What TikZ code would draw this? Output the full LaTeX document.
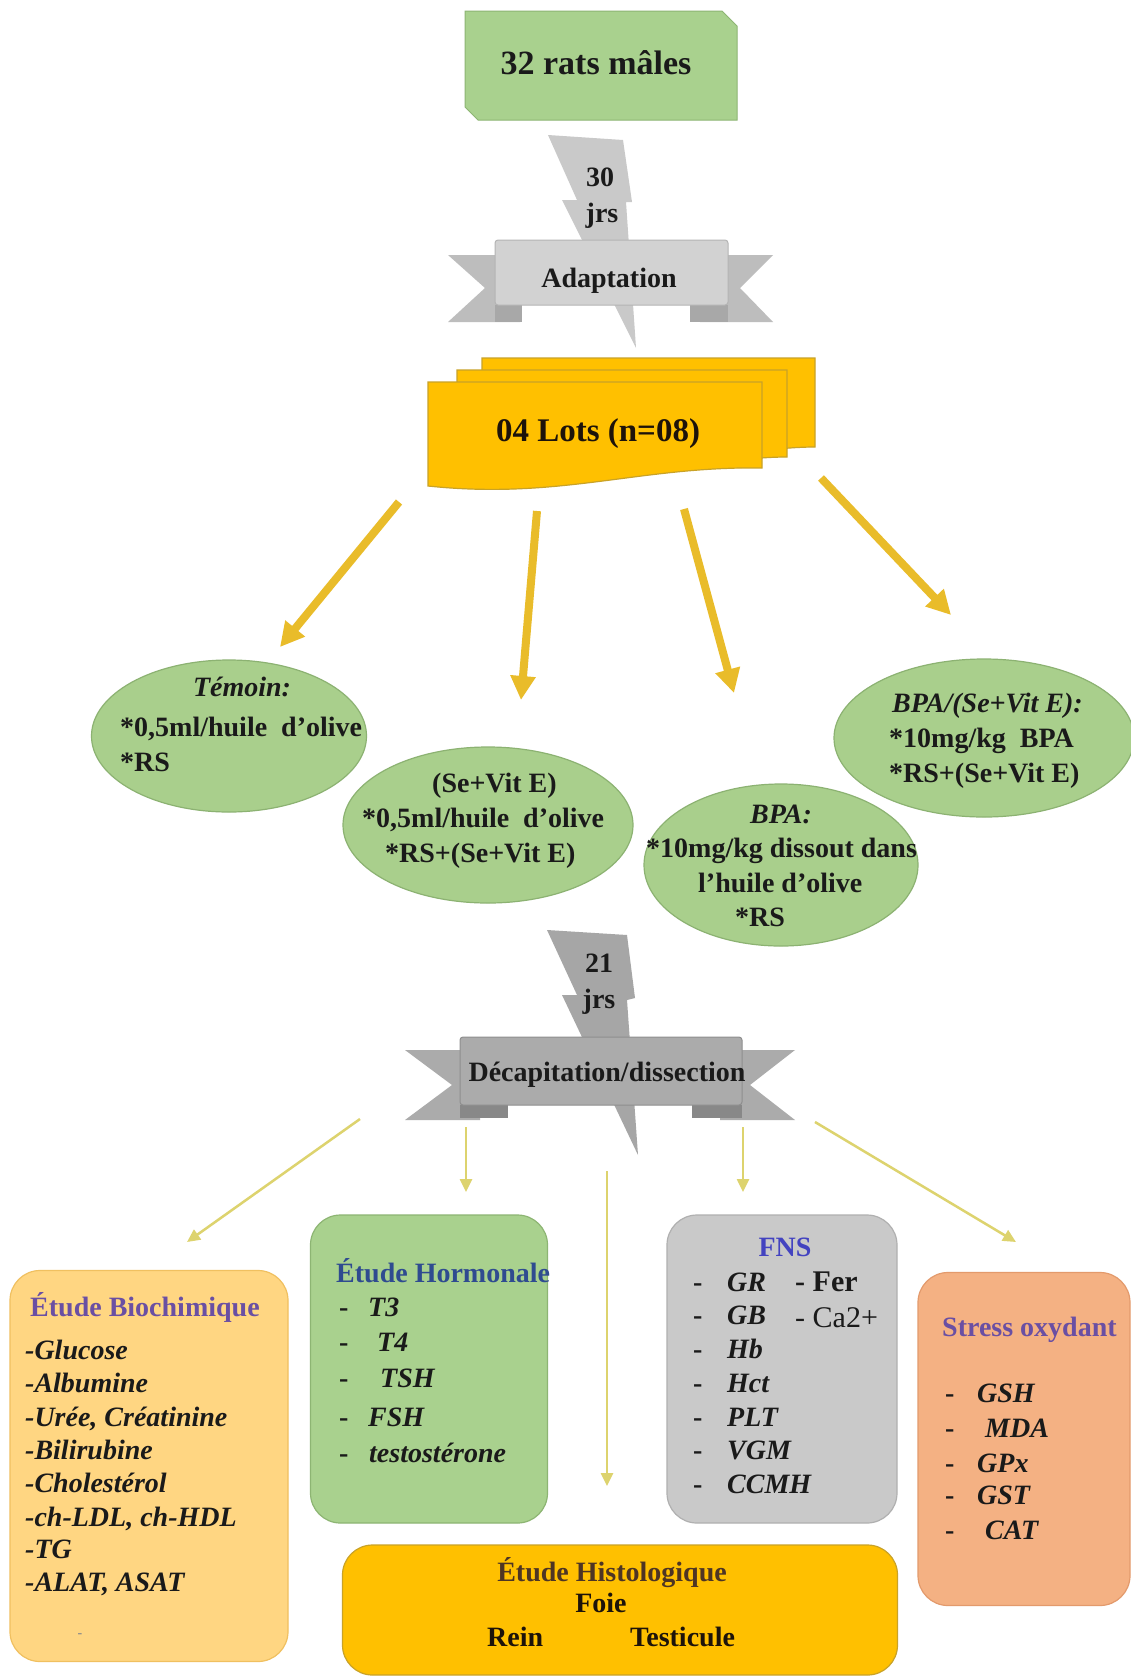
\documentclass[tikz,border=0pt]{standalone}
\usepackage{fontspec}
\setmainfont{Liberation Serif}
\usetikzlibrary{arrows.meta,shapes.geometric}
\definecolor{boxgreen}{HTML}{A9D18E}
\definecolor{boxgreenD}{HTML}{8DB573}
\definecolor{ellgreen}{HTML}{A9CF8C}
\definecolor{ellgreenD}{HTML}{8CB272}
\definecolor{boltA}{HTML}{C9C9C9}
\definecolor{bannerA}{HTML}{D2D2D2}
\definecolor{bannerAD}{HTML}{B4B4B4}
\definecolor{foldA}{HTML}{A8A8A8}
\definecolor{boltB}{HTML}{A6A6A6}
\definecolor{bannerB}{HTML}{ABABAB}
\definecolor{bannerBD}{HTML}{8E8E8E}
\definecolor{foldB}{HTML}{888888}
\definecolor{lotsfill}{HTML}{FFC000}
\definecolor{lotsD}{HTML}{C9A227}
\definecolor{arrowgold}{HTML}{E9BC2A}
\definecolor{arrowpale}{HTML}{DDD36E}
\definecolor{biofill}{HTML}{FFD682}
\definecolor{biodraw}{HTML}{F0C060}
\definecolor{fnsfill}{HTML}{C9C9C9}
\definecolor{fnsdraw}{HTML}{B0B0B0}
\definecolor{stressfill}{HTML}{F4B183}
\definecolor{stressdraw}{HTML}{E39A6C}
\definecolor{titpurple}{HTML}{6A4FA3}
\definecolor{titblue}{HTML}{2F4B90}
\definecolor{titfns}{HTML}{4343C0}
\definecolor{titbrown}{HTML}{4E3524}
\definecolor{ink}{HTML}{1A1A1A}
\tikzset{
  tb/.style={font=\bfseries\fontsize{28}{30}\selectfont, inner sep=0pt, text=ink},
  ti/.style={font=\bfseries\itshape\fontsize{28}{30}\selectfont, inner sep=0pt, text=ink},
  tr/.style={font=\fontsize{30}{32}\selectfont, inner sep=0pt, text=ink},
  bigarrow/.style={line width=8pt, draw=arrowgold, -{Triangle[length=24pt,width=24pt]}},
  smallarrow/.style={line width=2.5pt, draw=arrowpale, -{Triangle[length=13pt,width=12pt]}},
  ell/.style={ellipse, fill=ellgreen, draw=ellgreenD, line width=1.2pt, inner sep=0pt},
  rbox/.style={rectangle, rounded corners=30pt, line width=1.2pt, inner sep=0pt},
}
\begin{document}
\begin{tikzpicture}[x=1pt,y=-1pt]
\useasboundingbox (0,0) rectangle (1130,1676);
\fill[white] (0,0) rectangle (1130,1676);

% ---------- top box ----------
\filldraw[fill=boxgreen, draw=boxgreenD, line width=1pt]
  (465,11) -- (722,11) -- (737,26) -- (737,120) -- (478,120) -- (465,107) -- cycle;
\node[tb, anchor=base, font=\bfseries\fontsize{34}{36}\selectfont] (rats) at (596,74) {32 rats mâles};

% ---------- bolt 1 + banner Adaptation ----------
\fill[boltA] (548,135) -- (623,140) -- (632,202) -- (626,202) -- (636,348) -- (562,200) -- (577,200) -- cycle;
\node[tb] (n30) at (600,177) {30};
\node[tb] (jrs1) at (602,216) {jrs};
\fill[bannerA!90!black] (448,255) -- (520,255) -- (520,322) -- (448,322) -- (485,288) -- cycle;
\fill[bannerA!90!black] (773,255) -- (700,255) -- (700,322) -- (773,322) -- (740,288) -- cycle;
\fill[foldA] (495,305) rectangle (522,322);
\fill[foldA] (690,305) rectangle (728,322);
\filldraw[fill=bannerA, draw=bannerAD, line width=1pt, rounded corners=3pt] (495,240) rectangle (728,305);
\node[tb, anchor=base] (adapt) at (609,287) {Adaptation};

% ---------- lots ----------
\filldraw[fill=lotsfill, draw=lotsD, line width=1.2pt]
  (482,358) -- (815,358) -- (815,447) .. controls (740,447) and (640,478) .. (482,470) -- cycle;
\filldraw[fill=lotsfill, draw=lotsD, line width=1.2pt]
  (457,370) -- (787,370) -- (787,457) .. controls (710,457) and (610,488) .. (457,478) -- cycle;
\filldraw[fill=lotsfill, draw=lotsD, line width=1.2pt]
  (428,382) -- (762,382) -- (762,468) .. controls (640,466) and (560,500) .. (428,486) -- cycle;
\node[tb, anchor=base, font=\bfseries\fontsize{33}{35}\selectfont, text=black!85!brown] (lots) at (598,441) {04 Lots (n=08)};

% ---------- top arrows ----------
\coordinate (a1s) at (399,502); \coordinate (a1e) at (280,647);
\coordinate (a2s) at (537,511); \coordinate (a2e) at (521,700);
\coordinate (a3s) at (684,509); \coordinate (a3e) at (734,693);
\coordinate (a4s) at (821,478); \coordinate (a4e) at (951,615);
\draw[bigarrow] (a1s) -- (a1e);
\draw[bigarrow] (a2s) -- (a2e);
\draw[bigarrow] (a3s) -- (a3e);
\draw[bigarrow] (a4s) -- (a4e);

% ---------- ellipses ----------
\node[ell, minimum width=275pt, minimum height=152pt] (temoin) at (229,736) {};
\node[ell, minimum width=290pt, minimum height=156pt] (sevit) at (488,825) {};
\node[ell, minimum width=274pt, minimum height=162pt] (bpa) at (781,865) {};
\node[ell, minimum width=300pt, minimum height=158pt] (bpasev) at (984,738) {};

\node[ti, anchor=base] (t1a) at (242,696) {Témoin:};
\node[tb, anchor=base west] (t1b) at (120,736) {*0,5ml/huile\ \ d’olive};
\node[tb, anchor=base west] (t1c) at (120,771) {*RS};

\node[tb, anchor=base west] (t2a) at (432,792) {(Se+Vit E)};
\node[tb, anchor=base west] (t2b) at (362,827) {*0,5ml/huile\ \ d’olive};
\node[tb, anchor=base west] (t2c) at (385,862) {*RS+(Se+Vit E)};

\node[ti, anchor=base] (t3a) at (781,823) {BPA:};
\node[tb, anchor=base west] (t3b) at (646,857) {*10mg/kg dissout dans};
\node[tb, anchor=base west] (t3c) at (698,892) {l’huile d’olive};
\node[tb, anchor=base west] (t3d) at (735,926) {*RS};

\node[ti, anchor=base west] (t4a) at (892,712) {BPA/(Se+Vit E):};
\node[tb, anchor=base west] (t4b) at (889,747) {*10mg/kg\ \ BPA};
\node[tb, anchor=base west] (t4c) at (889,782) {*RS+(Se+Vit E)};

% ---------- bolt 2 + banner Decapitation ----------
\fill[boltB] (547,930) -- (627,935) -- (635,998) -- (627,1000) -- (638,1155) -- (562,995) -- (577,995) -- cycle;
\node[tb] (n21) at (599,963) {21};
\node[tb] (jrs2) at (599,1002) {jrs};
\fill[bannerB] (405,1050) -- (480,1050) -- (480,1120) -- (405,1120) -- (452,1085) -- cycle;
\fill[bannerB] (795,1050) -- (720,1050) -- (720,1120) -- (795,1120) -- (750,1085) -- cycle;
\fill[foldB] (460,1105) rectangle (508,1118);
\fill[foldB] (692,1105) rectangle (742,1118);
\filldraw[fill=bannerB, draw=bannerBD, line width=1pt, rounded corners=3pt] (460,1037) rectangle (742,1105);
\node[tb, anchor=base] (decap) at (607,1081) {Décapitation/dissection};

% ---------- lower arrows ----------
\coordinate (b1s) at (360,1119); \coordinate (b1e) at (187,1242);
\coordinate (b2s) at (466,1127); \coordinate (b2e) at (466,1192);
\coordinate (b3s) at (607,1171); \coordinate (b3e) at (607,1486);
\coordinate (b4s) at (743,1127); \coordinate (b4e) at (743,1192);
\coordinate (b5s) at (815,1122); \coordinate (b5e) at (1016,1242);
\draw[smallarrow] (b1s) -- (b1e);
\draw[smallarrow] (b2s) -- (b2e);
\draw[smallarrow] (b3s) -- (b3e);
\draw[smallarrow] (b4s) -- (b4e);
\draw[smallarrow] (b5s) -- (b5e);

% ---------- bottom boxes ----------
\node[rbox, fill=biofill, draw=biodraw, minimum width=278pt, minimum height=391pt] (bio) at (149,1466) {};
\node[rbox, fill=boxgreen, draw=boxgreenD, minimum width=237pt, minimum height=308pt] (horm) at (429,1369) {};
\node[rbox, fill=fnsfill, draw=fnsdraw, minimum width=230pt, minimum height=308pt] (fns) at (782,1369) {};
\node[rbox, fill=stressfill, draw=stressdraw, minimum width=212pt, minimum height=333pt] (stress) at (1024,1439) {};
\node[rbox, fill=lotsfill, draw=lotsD, minimum width=555pt, minimum height=130pt] (histo) at (620,1610) {};

% Biochimique
\node[tb, anchor=base west, text=titpurple] (bioT) at (30,1316) {Étude Biochimique};
\node[ti, anchor=base west] (bio1) at (25,1359) {-Glucose};
\node[ti, anchor=base west] (bio2) at (25,1392) {-Albumine};
\node[ti, anchor=base west] (bio3) at (25,1426) {-Urée, Créatinine};
\node[ti, anchor=base west] (bio4) at (25,1459) {-Bilirubine};
\node[ti, anchor=base west] (bio5) at (25,1492) {-Cholestérol};
\node[ti, anchor=base west] (bio6) at (25,1526) {-ch-LDL, ch-HDL};
\node[ti, anchor=base west] (bio7) at (25,1558) {-TG};
\node[ti, anchor=base west] (bio8) at (25,1591) {-ALAT, ASAT};
\node[font=\bfseries\fontsize{14}{14}\selectfont, text=black!45, inner sep=0pt] (biodot) at (80,1636) {-};

% Hormonale
\node[tb, anchor=base west, text=titblue] (hormT) at (336,1282) {Étude Hormonale};
\node[tb, anchor=base west] (hd1) at (339,1316) {-};
\node[ti, anchor=base west] (h1) at (368,1316) {T3};
\node[tb, anchor=base west] (hd2) at (339,1351) {-};
\node[ti, anchor=base west] (h2) at (377,1351) {T4};
\node[tb, anchor=base west] (hd3) at (339,1387) {-};
\node[ti, anchor=base west] (h3) at (380,1387) {TSH};
\node[tb, anchor=base west] (hd4) at (339,1426) {-};
\node[ti, anchor=base west] (h4) at (368,1426) {FSH};
\node[tb, anchor=base west] (hd5) at (339,1462) {-};
\node[ti, anchor=base west] (h5) at (369,1462) {testostérone};

% FNS
\node[tb, anchor=base, text=titfns] (fnsT) at (785,1256) {FNS};
\foreach \y/\w/\n in {1291/GR/f1, 1324/GB/f2, 1358/Hb/f3, 1392/Hct/f4, 1426/PLT/f5, 1459/VGM/f6, 1493/CCMH/f7} {
  \node[tb, anchor=base west] (\n d) at (693,\y) {-};
  \node[ti, anchor=base west] (\n) at (727,\y) {\w};
}
\node[tb, anchor=base west, font=\bfseries\fontsize{30}{32}\selectfont] (fer) at (795,1291) {- Fer};
\node[tr, anchor=base west] (ca) at (795,1327) {- Ca2+};

% Stress oxydant
\node[tb, anchor=base west, text=titpurple] (stressT) at (942,1336) {Stress oxydant};
\foreach \y/\x/\w/\n in {1402/977/GSH/s1, 1437/985/MDA/s2, 1472/977/GPx/s3, 1504/977/GST/s4, 1539/985/CAT/s5} {
  \node[tb, anchor=base west] (\n d) at (945,\y) {-};
  \node[ti, anchor=base west] (\n) at (\x,\y) {\w};
}

% Histologique
\node[tb, anchor=base, text=titbrown] (histoT) at (612,1581) {Étude Histologique};
\node[tb, anchor=base, text=black!85!brown] (foie) at (601,1612) {Foie};
\node[tb, anchor=base west, text=black!85!brown] (rein) at (487,1646) {Rein};
\node[tb, anchor=base west, text=black!85!brown] (testi) at (630,1646) {Testicule};
\end{tikzpicture}
\end{document}
